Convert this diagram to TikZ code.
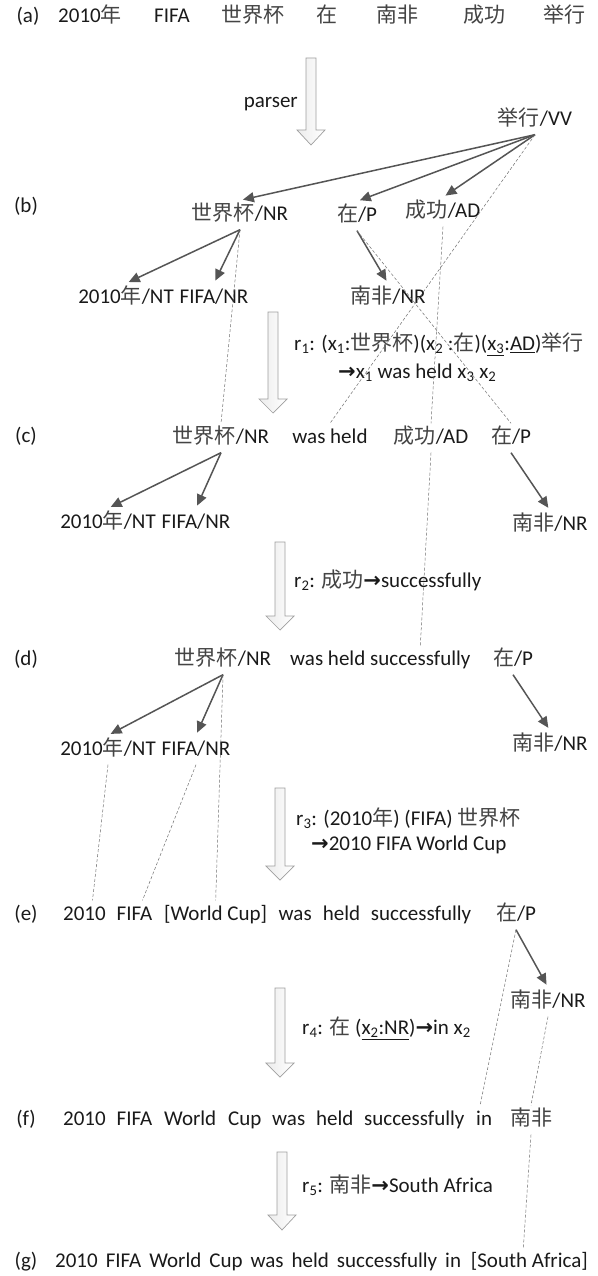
\documentclass[tikz,border=0pt]{standalone}
\usepackage{fontspec}
\setmainfont{Carlito}
\newfontfamily\cjkfont{Noto Sans CJK SC}
\newfontfamily\arrowfont{DejaVu Sans}
\usetikzlibrary{arrows.meta}
\definecolor{txtcol}{HTML}{1A1A1A}
\definecolor{cjkcol}{HTML}{444444}
\definecolor{arrcol}{HTML}{555555}
\definecolor{dashcol}{HTML}{707070}
\newcommand\zh[1]{{\cjkfont\color{cjkcol}#1}}
\newcommand\rarr{{\arrowfont\bfseries →}}
\newcommand\sbs[1]{\textsubscript{#1}}
\newcommand\hollowarrow[4]{%
  \draw[hollow] ({#1-5},#2) -- ({#1+5},#2) -- ({#1+5},#3) -- ({#1+14},#3) -- (#1,#4) -- ({#1-14},#3) -- ({#1-5},#3) -- cycle;}
\tikzset{
  txt/.style={inner xsep=0pt, inner ysep=5pt, text height=15pt, text depth=4pt,
    font=\fontsize{21}{25}\selectfont, text=txtcol},
  dep/.style={draw=arrcol, line width=1.5pt, -{Triangle[length=11pt,width=10pt]}, shorten >=3pt},
  aln/.style={draw=dashcol, line width=0.5pt, dash pattern=on 3pt off 2pt},
  hollow/.style={draw=gray!75, line width=0.7pt, left color=gray!15, right color=white}
}
\begin{document}
\begin{tikzpicture}[x=1pt,y=-1pt]
\useasboundingbox (0,0) rectangle (597,1276);
\fill[white] (0,0) rectangle (597,1276);

% row (a)
\node[txt] (la) at (28,17) {(a)};
\node[txt] (a1) at (90,17) {2010\zh{年}};
\node[txt] (a2) at (172,17) {FIFA};
\node[txt] (a3) at (253,17) {\zh{世界杯}};
\node[txt] (a4) at (327,17) {\zh{在}};
\node[txt] (a5) at (397,17) {\zh{南非}};
\node[txt] (a6) at (484,17) {\zh{成功}};
\node[txt] (a7) at (564,17) {\zh{举行}};

\hollowarrow{311}{58}{130}{145}
\node[txt, anchor=east] (parser) at (298,102) {parser};

% row (b)
\node[txt] (bvv) at (535,120) {\zh{举行}/VV};
\node[txt] (lb) at (26,207) {(b)};
\node[txt] (bsjb) at (240,215) {\zh{世界杯}/NR};
\node[txt] (bzai) at (357,216) {\zh{在}/P};
\node[txt] (bcg) at (443,212) {\zh{成功}/AD};
\node[txt] (bnt) at (126,298) {2010\zh{年}/NT};
\node[txt] (bfifa) at (214,298) {FIFA/NR};
\node[txt] (bnf) at (388,298) {\zh{南非}/NR};

\hollowarrow{273}{312}{399}{413}
\node[txt, anchor=west] (r1a) at (294,345) {r\sbs{1}: (x\sbs{1}:\zh{世界杯})(x\sbs{2} :\zh{在})(\underline{x\sbs{3}}:\underline{AD})\zh{举行}};
\node[txt, anchor=west] (r1b) at (338,373) {\rarr x\sbs{1} was held x\sbs{3} x\sbs{2}};

% row (c)
\node[txt] (lc) at (26,437) {(c)};
\node[txt] (csjb) at (221,438) {\zh{世界杯}/NR};
\node[txt] (cwh) at (330,438) {was held};
\node[txt] (ccg) at (431,438) {\zh{成功}/AD};
\node[txt] (czai) at (511,438) {\zh{在}/P};
\node[txt] (cnt) at (108,523) {2010\zh{年}/NT};
\node[txt] (cfifa) at (196,523) {FIFA/NR};
\node[txt] (cnf) at (550,525) {\zh{南非}/NR};

\hollowarrow{280}{542}{616}{630}
\node[txt, anchor=west] (r2) at (294,582) {r\sbs{2}: \zh{成功}\rarr successfully};

% row (d)
\node[txt] (ld) at (26,660) {(d)};
\node[txt] (dsjb) at (223,660) {\zh{世界杯}/NR};
\node[txt, anchor=west] (dwh) at (290,660) {was held};
\node[txt, anchor=west] (dsu) at (370,660) {successfully};
\node[txt] (dzai) at (513,660) {\zh{在}/P};
\node[txt] (dnt) at (108,750) {2010\zh{年}/NT};
\node[txt] (dfifa) at (196,750) {FIFA/NR};
\node[txt] (dnf) at (550,745) {\zh{南非}/NR};

\hollowarrow{280}{788}{866}{880}
\node[txt, anchor=west] (r3a) at (296,820) {r\sbs{3}: (2010\zh{年}) (FIFA) \zh{世界杯}};
\node[txt, anchor=west] (r3b) at (311,845) {\rarr 2010 FIFA World Cup};

% row (e)
\node[txt] (le) at (26,915) {(e)};
\node[txt, anchor=west] (e2010) at (63,915) {2010};
\node[txt, anchor=west] (efifa) at (116.5,915) {FIFA};
\node[txt, anchor=west] (ewc) at (164,915) {[World Cup]};
\node[txt, anchor=west] (ewas) at (278.5,915) {was};
\node[txt, anchor=west] (eheld) at (322.6,915) {held};
\node[txt, anchor=west] (esu) at (370.7,915) {successfully};
\node[txt] (ezai) at (516,915) {\zh{在}/P};
\node[txt] (enf) at (548,1002) {\zh{南非}/NR};

\hollowarrow{280}{988}{1063}{1077}
\node[txt, anchor=west] (r4) at (302,1029) {r\sbs{4}: \zh{在} (\underline{x\sbs{2}:NR})\rarr in x\sbs{2}};

% row (f)
\node[txt] (lf) at (26,1120) {(f)};
\node[txt, anchor=west] (f2010) at (63,1120) {2010};
\node[txt, anchor=west] (ffifa) at (116.5,1120) {FIFA};
\node[txt, anchor=west] (fworld) at (164,1120) {World};
\node[txt, anchor=west] (fcup) at (228,1120) {Cup};
\node[txt, anchor=west] (fwas) at (272,1120) {was};
\node[txt, anchor=west] (fheld) at (316,1120) {held};
\node[txt, anchor=west] (fsu) at (364,1120) {successfully};
\node[txt, anchor=west] (fin) at (476,1120) {in};
\node[txt] (fnf) at (531,1120) {\zh{南非}};

\hollowarrow{282}{1152}{1215}{1230}
\node[txt, anchor=west] (r5) at (302,1187) {r\sbs{5}: \zh{南非}\rarr South Africa};

% row (g)
\node[txt] (lg) at (26,1262) {(g)};
\node[txt, anchor=west] (gmain) at (55,1262) {\spaceskip=8pt\relax 2010 FIFA World Cup was held successfully in};
\node[txt, anchor=east] (gsa) at (588,1262) {[South Africa]};

% dependency arrows
\draw[dep] (bvv.south) -- (bsjb.north);
\draw[dep] (bvv.south) -- (bzai.north);
\draw[dep] (bvv.south) -- (bcg.north);
\draw[dep] (bsjb.south) -- (bnt.north);
\draw[dep] (bsjb.south) -- (bfifa.north);
\draw[dep] (bzai.south) -- (bnf.north);
\draw[dep] (csjb.south) -- (cnt.north);
\draw[dep] (csjb.south) -- (cfifa.north);
\draw[dep] (czai.south) -- (cnf.north);
\draw[dep] (dsjb.south) -- (dnt.north);
\draw[dep] (dsjb.south) -- (dfifa.north);
\draw[dep] (dzai.south) -- (dnf.north);
\draw[dep] (ezai.south) -- (enf.north);

% alignment lines
\draw[aln] (bsjb.south) -- (csjb.north);
\draw[aln] (bvv.south) -- (cwh.north);
\draw[aln] (bcg.south) -- (ccg.north);
\draw[aln] (bzai.south) -- (czai.north);
\draw[aln] (ccg.south) -- (dsu.north);
\draw[aln] (dsjb.south) -- (ewc.north);
\draw[aln] (dnt.south) -- ([xshift=8pt]e2010.north);
\draw[aln] (dfifa.south) -- ([xshift=8pt]efifa.north);
\draw[aln] (ezai.south) -- ([xshift=-4pt]fin.north);
\draw[aln] (enf.south) -- (fnf.north);
\draw[aln] (fnf.south) -- ([xshift=-6pt]gsa.north);
\end{tikzpicture}
\end{document}
